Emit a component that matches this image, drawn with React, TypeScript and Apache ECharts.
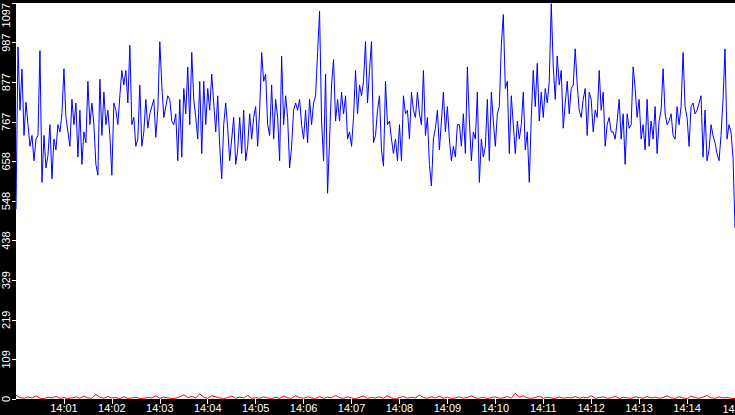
import { useEffect, useRef } from "react";
import * as echarts from "echarts";

// samples: blue every 2.5 s, red every 5 s, from 14:00:00 to 14:15:00
const BLUE_STEP = 2.5;
const RED_STEP = 5;

const blue1 = [525, 975, 800, 914, 730, 822, 760, 700, 730, 660, 720, 730, 965, 600, 730, 640, 675, 760, 610, 720, 690, 760, 740, 790, 915, 780, 740, 700, 830, 760, 820, 670, 800, 650, 740, 710, 880, 760, 820, 760, 650, 620, 886, 730, 850, 760, 800, 730, 620, 820, 800, 760, 840, 910, 870, 910, 820, 980, 760, 780];
const blue2 = [700, 720, 870, 700, 740, 830, 750, 790, 810, 830, 725, 800, 990, 870, 780, 810, 840, 830, 770, 760, 790, 660, 830, 670, 860, 790, 920, 760, 960, 830, 780, 720, 880, 680, 880, 760, 860, 800, 900, 820, 740, 840, 700, 610, 760, 820, 750, 660, 720, 780, 650, 690, 780, 680, 800, 660, 700, 790, 720, 780];
const blue3 = [810, 700, 800, 960, 880, 900, 760, 730, 870, 720, 830, 780, 660, 950, 760, 840, 780, 640, 700, 800, 820, 800, 830, 760, 720, 800, 710, 830, 760, 820, 840, 960, 1074, 770, 660, 900, 570, 720, 870, 940, 770, 830, 770, 850, 790, 840, 720, 740, 700, 780, 910, 790, 870, 840, 880, 990, 820, 910, 990, 710];
const blue4 = [730, 800, 840, 690, 645, 880, 760, 770, 720, 680, 720, 660, 760, 660, 840, 790, 800, 720, 850, 800, 780, 850, 790, 760, 910, 730, 780, 650, 590, 720, 750, 800, 690, 770, 850, 740, 810, 720, 660, 700, 670, 760, 760, 700, 790, 680, 920, 770, 660, 740, 720, 850, 600, 720, 670, 700, 830, 660, 850, 770];
const blue5 = [700, 790, 810, 980, 1065, 860, 880, 680, 840, 760, 680, 770, 720, 760, 850, 690, 740, 600, 780, 910, 810, 930, 770, 850, 780, 860, 820, 880, 1095, 920, 830, 950, 870, 910, 750, 820, 880, 790, 860, 870, 970, 870, 800, 780, 830, 860, 730, 850, 830, 740, 800, 780, 910, 800, 850, 700, 760, 780, 740, 740];
const blue6 = [720, 770, 830, 720, 790, 650, 790, 750, 760, 920, 860, 780, 830, 720, 760, 690, 830, 700, 770, 720, 810, 680, 770, 800, 915, 790, 760, 770, 790, 730, 720, 810, 760, 810, 960, 810, 780, 700, 810, 820, 790, 800, 820, 840, 670, 800, 660, 690, 760, 730, 710, 680, 660, 730, 830, 970, 720, 760, 740, 670, 474];

const redValues = [
  10, 4, 2, 6, 3, 9, 2, 1, 5, 3, 7, 2, 4, 1, 3, 6, 2, 8, 3, 2,
  13, 5, 2, 7, 3, 4, 1, 6, 2, 3, 5, 1, 2, 4, 3, 9, 2, 5, 3, 1,
  2, 6, 12, 4, 7, 3, 14, 5, 2, 9, 6, 3, 1, 4, 8, 2, 5, 3, 10, 2,
  4, 2, 6, 3, 1, 5, 2, 8, 3, 2, 9, 4, 2, 6, 3, 1, 7, 2, 5, 3,
  10, 4, 2, 6, 3, 1, 5, 8, 2, 4, 3, 6, 2, 9, 3, 1, 4, 7, 2, 5,
  3, 11, 4, 2, 6, 3, 8, 2, 5, 1, 3, 6, 2, 4, 9, 3, 2, 5, 1, 4,
  6, 2, 3, 7, 2, 16, 5, 9, 3, 2, 4, 8, 2, 5, 3, 1, 6, 2, 4, 3,
  7, 2, 5, 3, 9, 2, 4, 6, 2, 3, 8, 1, 5, 3, 2, 6, 4, 2, 7, 3,
  5, 2, 4, 9, 3, 2, 6, 3, 1, 8, 4, 2, 5, 10, 3, 2, 6, 3, 4, 2,
  1,
];

const blueValues = [...blue1, ...blue2, ...blue3, ...blue4, ...blue5, ...blue6];

const yMax = 1097;
const yStep = 109.7;
const lastLabel = "14:15";

const pad = (n: number) => (n < 10 ? "0" + n : "" + n);

export default function App() {
  const chartRef = useRef<HTMLDivElement>(null);

  useEffect(() => {
    document.body.style.margin = "0";
    if (!chartRef.current) return;
    const chart = echarts.init(chartRef.current, undefined, { renderer: "svg" });

    const labelFont = {
      color: "#ffffff",
      fontFamily: "Liberation Sans, Arial, sans-serif",
      fontSize: 11,
    };

    chart.setOption({
      animation: false,
      backgroundColor: "#000000",
      grid: {
        left: 15,
        right: 0,
        top: 0,
        bottom: 16,
        show: true,
        backgroundColor: "#ffffff",
        borderWidth: 0,
      },
      xAxis: {
        type: "value",
        min: 0,
        max: 900,
        interval: 60,
        axisLine: { show: false },
        splitLine: { show: false },
        axisTick: { show: true, length: 5, lineStyle: { color: "#ffffff", width: 1 } },
        axisLabel: {
          ...labelFont,
          margin: 3,
          showMinLabel: false,
          showMaxLabel: false,
          formatter: (v: number) => "14:" + pad(Math.round(v / 60)),
        },
      },
      yAxis: {
        type: "value",
        min: 0,
        max: yMax,
        interval: yStep,
        axisLine: { show: false },
        splitLine: { show: false },
        axisTick: { show: true, length: 4, lineStyle: { color: "#ffffff", width: 1 } },
        axisLabel: {
          ...labelFont,
          rotate: 90,
          margin: 5,
          alignMaxLabel: "right",
          formatter: (v: number) => String(Math.floor(v + 1e-6)),
        },
      },
      // last time label sits on the right edge and gets cut, as in the original
      graphic: [
        {
          type: "text",
          right: -15,
          bottom: 1,
          style: { text: lastLabel, fill: "#ffffff", font: "11px Liberation Sans, Arial, sans-serif" },
        },
      ],
      series: [
        {
          type: "line",
          data: redValues.map((v, i) => [i * RED_STEP, v]),
          showSymbol: false,
          lineStyle: { color: "#ff0000", width: 1 },
        },
        {
          type: "line",
          data: blueValues.map((v, i) => [i * BLUE_STEP, v]),
          showSymbol: false,
          lineStyle: { color: "#0000ff", width: 1 },
        },
      ],
    });

    return () => chart.dispose();
  }, []);

  return <div ref={chartRef} style={{ width: 735, height: 415 }} />;
}
